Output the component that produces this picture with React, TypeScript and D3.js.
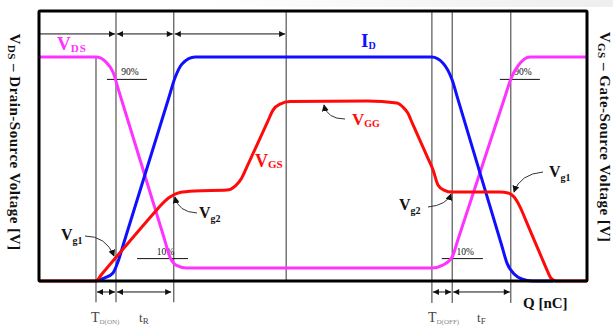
import React from 'react';
import * as d3 from 'd3';

// gate charge axis (0..100 % of the drawn range) and level in % of full swing
const VDS = [
  [0, 100], [10.4, 100], [12.2, 97.8], [13.5, 93.3], [14.6, 84.6], [22.8, 19.4],
  [23.9, 10.7], [25, 7.1], [27, 5.8], [71.7, 5.8], [73.7, 7.1], [75.4, 10.7],
  [76.4, 18.1], [85.1, 82.8], [86.1, 90.2], [87.4, 96], [89.6, 100], [100, 100],
];

const ID = [
  [10.4, 0], [11.9, 1.3], [13.5, 3.6], [14.4, 8.5], [15.5, 17.2], [23.7, 81.9],
  [24.8, 90.6], [26.1, 96.9], [28.5, 100], [71.7, 100], [73.7, 97.3], [75.4, 89.7],
  [76.4, 81.5], [84.4, 16.2], [85.4, 8.0], [86.7, 3.1], [88.1, 0.9], [90, 0], [93.8, 0],
];

const VGS = [
  [0, 0], [10.4, 0], [11.4, 2.9], [21.1, 30.7], [22.1, 33.5], [23.9, 37.5],
  [25.7, 39.5], [28.5, 40.2], [34.3, 40.6], [35.8, 42.4], [37.0, 46.0], [38.0, 51.3],
  [41.7, 71.0], [42.7, 76.3], [44.0, 79.0], [45.8, 80.1], [59.9, 80.4], [65.3, 79.5],
  [66.4, 77.7], [67.3, 75.0], [68.2, 70.0], [71.0, 54.6], [71.9, 49.6], [72.8, 42.9],
  [73.9, 40.6], [75.4, 39.7], [84.1, 39.7], [85.6, 39.3], [86.7, 37.5], [87.8, 33.0],
  [88.8, 27.3], [91.7, 10.6], [92.7, 4.9], [93.4, 1.3], [94.3, 0], [100, 0],
];

// switching instants and how far each guide line runs (top, bottom)
const EDGES = [
  [10.4, 100, -9.5], [14.05, 120.5, -9.5], [24.6, 120.5, -9.5], [45.1, 120.5, 0],
  [71.7, 120.5, -9.8], [75.4, 120.5, -9.8], [86.1, 120.5, -9.8],
];

const TOP_SPANS = [[0, 14.05, false], [14.05, 24.6, true], [24.6, 45.1, true]];
const BOTTOM_SPANS = [[10.4, 14.05], [14.05, 24.3], [71.7, 75.4], [75.4, 86.1]];

const LEVELS = [
  ['90%', 90, 12.4, 19.7], ['90%', 90, 84.1, 91.4],
  ['10%', 10, 17.9, 27.2], ['10%', 10, 73.5, 81.0],
];

const MAGENTA = '#ff33ff';
const BLUE = '#1010ff';
const RED = '#ff0a0a';
const FONT = '"Liberation Serif", "Times New Roman", serif';

const W = 613;
const H = 326;

export default function App() {
  const x = d3.scaleLinear().domain([0, 100]).range([39, 587]);
  const y = d3.scaleLinear().domain([0, 100]).range([281, 57]);
  const line = d3.line<number[]>().x(d => x(d[0])).y(d => y(d[1])).curve(d3.curveMonotoneX);

  const head = (px: number, py: number, dir: number) =>
    `M${px},${py}L${px - dir * 6},${py - 3}L${px - dir * 6},${py + 3}Z`;

  const span = (a: number, b: number, v: number, left: boolean, k: string) => {
    const x0 = x(a) + 1, x1 = x(b) - 1, yy = y(v);
    return (
      <g key={k}>
        <line x1={x0} x2={x1} y1={yy} y2={yy} stroke="#111" strokeWidth={1} />
        <path d={head(x1, yy, 1)} fill="#111" />
        {left && <path d={head(x0, yy, -1)} fill="#111" />}
      </g>
    );
  };

  // curved pointer from a label to a spot on the gate curve
  const pointer = (sx: number, sy: number, cx: number, cy: number, ex: number, ey: number) =>
    `M${sx},${sy}Q${cx},${cy} ${ex},${ey}`;

  return (
    <svg width={W} height={H} style={{ position: 'absolute', left: 0, top: 0 }} fontFamily={FONT}>
      <defs>
        <linearGradient id="band" x1="0" x2="1" y1="0" y2="0">
          <stop offset="0" stopColor="#ffffff" />
          <stop offset="1" stopColor="#eeeeee" />
        </linearGradient>
        <marker id="tip" viewBox="0 0 8 8" refX="7" refY="4" markerWidth="7" markerHeight="7" orient="auto">
          <path d="M0,0L8,4L0,8Z" fill="#111" />
        </marker>
      </defs>
      <rect width={W} height={H} fill="#fff" />
      <rect x={200} y={0} width={W - 200} height={7} fill="url(#band)" />

      {EDGES.map(([q, top, bottom], i) => (
        <line key={'e' + i} x1={x(q)} x2={x(q)} y1={y(top)} y2={y(bottom)} stroke="#333" strokeWidth={1} />
      ))}

      {TOP_SPANS.map(([a, b, l], i) => span(a as number, b as number, 110.3, l as boolean, 't' + i))}
      {BOTTOM_SPANS.map(([a, b], i) => span(a, b, -4.9, true, 'b' + i))}

      {LEVELS.map(([label, v, a, b], i) => (
        <g key={'l' + i}>
          <line x1={x(a as number)} x2={x(b as number)} y1={y(v as number)} y2={y(v as number)} stroke="#111" strokeWidth={1} />
          <text x={(x(a as number) + x(b as number)) / 2 + 3} y={y(v as number) - 4} fontSize={9.5} textAnchor="middle" fill="#111">{label}</text>
        </g>
      ))}

      <path d={line(VDS) || ''} fill="none" stroke={MAGENTA} strokeWidth={3} strokeLinejoin="round" />
      <path d={line(ID) || ''} fill="none" stroke={BLUE} strokeWidth={3} strokeLinejoin="round" />
      <path d={line(VGS) || ''} fill="none" stroke={RED} strokeWidth={3} strokeLinejoin="round" />

      <rect x={39} y={11} width={548} height={270} fill="none" stroke="#000" strokeWidth={3} rx={1} />

      {/* pointers */}
      <g fill="none" stroke="#333" strokeWidth={1} markerEnd="url(#tip)">
        <path d={pointer(85, 236, 106, 236, 114, 256)} />
        <path d={pointer(197, 213, 178, 212, 175, 197)} />
        <path d={pointer(345, 119, 327, 119, 324, 105)} />
        <path d={pointer(428, 207, 447, 205, 451, 194)} />
        <path d={pointer(543, 172, 520, 174, 514, 192)} />
      </g>

      {/* curve labels */}
      <g fontWeight="bold">
        <text x={57} y={50} fontSize={19} fill={MAGENTA}>V<tspan fontSize={11} dy={2} letterSpacing={1}>DS</tspan></text>
        <text x={361} y={47} fontSize={19} fill={BLUE}>I<tspan fontSize={10} dy={1.5}>D</tspan></text>
        <text x={352} y={125} fontSize={17} fill={RED}>V<tspan fontSize={10} dy={1.5}>GG</tspan></text>
        <text x={255} y={167} fontSize={18} fill={RED}>V<tspan fontSize={11} dy={1}>GS</tspan></text>
        <text x={61} y={240} fontSize={16} fill="#111">V<tspan fontSize={10} dy={4}>g1</tspan></text>
        <text x={199} y={218} fontSize={16} fill="#111">V<tspan fontSize={10} dy={4}>g2</tspan></text>
        <text x={399} y={210} fontSize={16} fill="#111">V<tspan fontSize={10} dy={4}>g2</tspan></text>
        <text x={549} y={177} fontSize={16} fill="#111">V<tspan fontSize={10} dy={4}>g1</tspan></text>
        <text x={523} y={308} fontSize={15} fill="#111">Q [nC]</text>
      </g>

      {/* timing labels */}
      <g fill="#444">
        <text x={91} y={322} fontSize={14}>T<tspan fontSize={7} fill="#888" dy={2}>D(ON)</tspan></text>
        <text x={139} y={322} fontSize={13}>t<tspan fontSize={9} dy={2}>R</tspan></text>
        <text x={428} y={322} fontSize={14}>T<tspan fontSize={7} fill="#888" dy={2}>D(OFF)</tspan></text>
        <text x={477} y={322} fontSize={13}>t<tspan fontSize={9} dy={2}>F</tspan></text>
      </g>

      {/* axis titles */}
      <text transform="translate(10,142) rotate(90)" textAnchor="middle" fontSize={15} letterSpacing={0.5} fontWeight="bold" fill="#111">
        V<tspan fontSize={11} dy={2}>DS</tspan><tspan dy={-2}> – Drain-Source Voltage [V]</tspan>
      </text>
      <text transform="translate(600,137) rotate(90)" textAnchor="middle" fontSize={15} letterSpacing={0.5} fontWeight="bold" fill="#111">
        V<tspan fontSize={11} dy={2}>GS</tspan><tspan dy={-2}> – Gate-Source Voltage [V]</tspan>
      </text>
    </svg>
  );
}
